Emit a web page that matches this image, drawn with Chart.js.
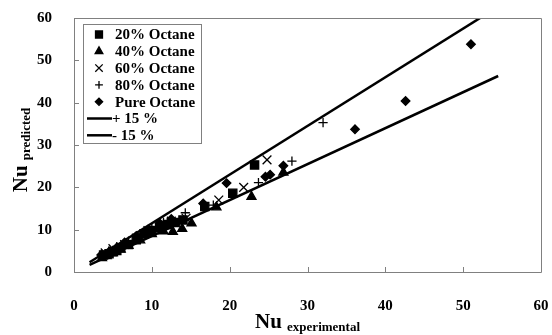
<!DOCTYPE html>
<html>
<head>
<meta charset="utf-8">
<script src="https://cdn.jsdelivr.net/npm/chart.js@4.4.1/dist/chart.umd.min.js"></script>
<style>
  html, body { margin: 0; padding: 0; background: #fff; }
  #wrap { width: 552px; height: 335px; position: relative; }
</style>
</head>
<body>
<div id="wrap"><canvas id="nuChart"></canvas></div>
<script>
// values: [Nu experimental, Nu predicted]
const octane20 = [[3.8,4],[4.5,4.3],[5,4.8],[5.5,5.1],[6,5.7],[7,6.5],[8,7.6],[9,9],[10,9.8],[11,10.5],[12,11.2],[13,11.7],[14,12.3],[16.8,15.5],[20.4,18.6],[23.2,25.3]]
const octane40 = [[3.6,3.3],[4.2,3.8],[5,4.5],[6,5.3],[7,6.2],[8.5,7.5],[10,9],[11.5,9.6],[12.7,9.5],[13.9,10.2],[15.1,11.5],[18.3,15.3],[22.8,17.8],[26.9,23.5]]
const octane60 = [[4,4.5],[5,5.5],[6.5,6.5],[8,8],[9.5,9.8],[11,11],[12.5,12],[14.4,12.7],[18.6,17],[21.8,20],[24.8,26.5]]
const octane80 = [[4.5,5],[5.5,6],[7,7.3],[8.5,9],[10,10.5],[11.5,11.8],[14.3,14],[17.9,15.8],[23.7,21.1],[28,26.2],[32,35.3]]
const pureOctane = [[3.5,4],[4.5,4.8],[5.5,5.8],[6.5,7],[8,8.5],[9.5,10],[11,11.5],[12.5,12.5],[16.6,16.2],[19.6,21],[24.6,22.5],[25.2,23],[26.9,25.1],[36.1,33.7],[42.6,40.4],[51,53.8]]
const plus15 = [[2,2.3],[55,63.25]]
const minus15 = [[2,1.7],[54.5,46.3]]
const axisTicks = [0, 10, 20, 30, 40, 50, 60]

const serif = "'Liberation Serif', 'Times New Roman', serif"
const frameColor = '#808080'

function toPoints(arr) {
  return arr.map(p => ({x: p[0], y: p[1]}))
}

function markerSet(label, arr, style, r) {
  return {
    label: label,
    data: toPoints(arr),
    pointStyle: style,
    pointRadius: r,
    backgroundColor: '#000',
    borderColor: '#000',
    borderWidth: 1.3,
    showLine: false
  }
}

function lineSet(label, arr) {
  return {
    label: label,
    data: toPoints(arr),
    showLine: true,
    pointRadius: 0,
    borderColor: '#000',
    borderWidth: 2.5,
    isLine: true
  }
}

// frame, inner ticks, axis titles, legend box
const decorations = {
  id: 'decorations',
  afterDraw(chart) {
    const ctx = chart.ctx
    const a = chart.chartArea
    const xs = chart.scales.x, ys = chart.scales.y
    const L = Math.round(a.left), T = Math.round(a.top), R = Math.round(a.right), B = Math.round(a.bottom)
    ctx.save()
    ctx.strokeStyle = frameColor
    ctx.lineWidth = 1
    ctx.beginPath()
    ctx.moveTo(L + 0.5, T + 0.5)
    ctx.lineTo(R + 0.5, T + 0.5)
    ctx.lineTo(R + 0.5, B + 0.5)
    ctx.lineTo(L + 0.5, B + 0.5)
    ctx.closePath()
    for (const t of axisTicks) {
      const px = Math.round(xs.getPixelForValue(t)) + 0.5
      ctx.moveTo(px, B); ctx.lineTo(px, B - 5)
      const py = Math.round(ys.getPixelForValue(t)) + 0.5
      ctx.moveTo(L, py); ctx.lineTo(L + 5, py)
    }
    ctx.stroke()

    // x title
    ctx.fillStyle = '#000'
    ctx.textBaseline = 'alphabetic'
    ctx.textAlign = 'left'
    ctx.font = 'bold 21px ' + serif
    const bigW = ctx.measureText('Nu ').width
    ctx.font = 'bold 13px ' + serif
    const subW = ctx.measureText('experimental').width
    const cx = (a.left + a.right) / 2
    let sx = cx - (bigW + subW) / 2
    ctx.font = 'bold 21px ' + serif
    ctx.fillText('Nu', sx, 328)
    ctx.font = 'bold 13px ' + serif
    ctx.fillText('experimental', sx + bigW, 331)

    // y title
    ctx.save()
    ctx.translate(27, (a.top + a.bottom) / 2)
    ctx.rotate(-Math.PI / 2)
    ctx.font = 'bold 21px ' + serif
    const bigW2 = ctx.measureText('Nu ').width
    ctx.font = 'bold 13px ' + serif
    const subW2 = ctx.measureText('predicted').width
    sx = -(bigW2 + subW2) / 2 - 5
    ctx.font = 'bold 21px ' + serif
    ctx.fillText('Nu', sx, 0)
    ctx.font = 'bold 13px ' + serif
    ctx.fillText('predicted', sx + bigW2, 3)
    ctx.restore()

    // legend
    const lx = L + 9, ly = T + 6, lw = 118, lh = 119
    ctx.fillStyle = '#fff'
    ctx.fillRect(lx, ly, lw, lh)
    ctx.strokeStyle = frameColor
    ctx.lineWidth = 1
    ctx.strokeRect(lx + 0.5, ly + 0.5, lw, lh)
    ctx.font = 'bold 15px ' + serif
    ctx.textBaseline = 'middle'
    chart.data.datasets.forEach((ds, i) => {
      const rowY = ly + 10.5 + i * 16.8
      ctx.fillStyle = '#000'
      ctx.strokeStyle = '#000'
      if (ds.isLine) {
        ctx.lineWidth = 2.5
        ctx.beginPath()
        ctx.moveTo(lx + 4, rowY); ctx.lineTo(lx + 29, rowY)
        ctx.stroke()
        ctx.fillText(ds.label, lx + 29, rowY + 1)
      } else {
        ctx.lineWidth = 1.3
        Chart.helpers.drawPoint(ctx, {pointStyle: ds.pointStyle, radius: ds.pointRadius * 0.85, rotation: 0, borderWidth: 1.3}, lx + 16, rowY)
        ctx.fillText(ds.label, lx + 32, rowY + 1)
      }
    })
    ctx.restore()
  }
}

new Chart(document.getElementById('nuChart'), {
  type: 'scatter',
  data: {
    datasets: [
      markerSet('20% Octane', octane20, 'rect', 5.8),
      markerSet('40% Octane', octane40, 'triangle', 5.2),
      markerSet('60% Octane', octane60, 'crossRot', 6.2),
      markerSet('80% Octane', octane80, 'cross', 4.6),
      markerSet('Pure Octane', pureOctane, 'rectRot', 4.3),
      lineSet('+ 15 %', plus15),
      lineSet('- 15 %', minus15)
    ]
  },
  options: {
    responsive: true,
    maintainAspectRatio: false,
    animation: false,
    layout: { padding: { top: 18, right: 11, left: 0, bottom: 0 } },
    plugins: {
      legend: { display: false },
      tooltip: { enabled: false }
    },
    scales: {
      x: {
        min: 0, max: 60,
        afterFit(s) { s.height = 63; s.paddingLeft = 0; s.paddingRight = 0 },
        grid: { display: false },
        border: { display: false },
        ticks: {
          stepSize: 10, padding: 17, color: '#000',
          font: { family: serif, size: 15, weight: 'bold' }
        }
      },
      y: {
        min: 0, max: 60,
        afterFit(s) { s.width = 74; s.paddingTop = 0; s.paddingBottom = 0 },
        grid: { display: false },
        border: { display: false },
        ticks: {
          stepSize: 10, padding: 14, color: '#000',
          font: { family: serif, size: 15, weight: 'bold' }
        }
      }
    }
  },
  plugins: [decorations]
})
</script>
</body>
</html>
